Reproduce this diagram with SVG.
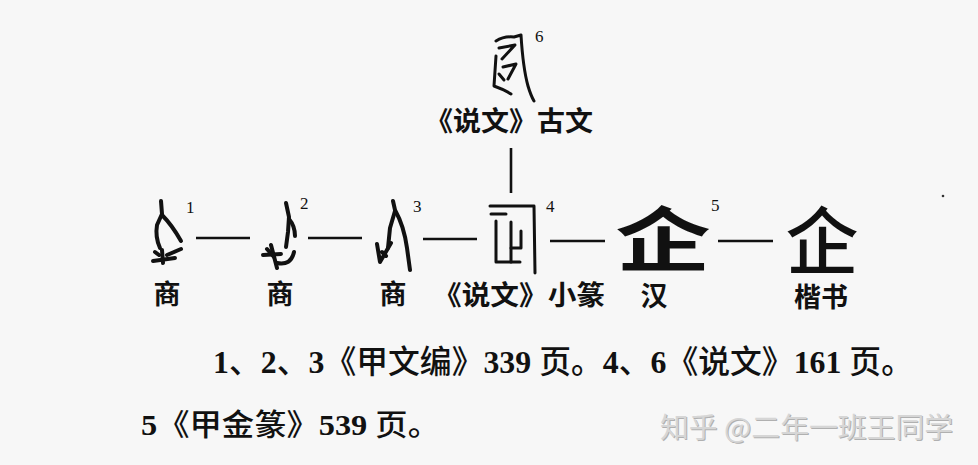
<svg xmlns="http://www.w3.org/2000/svg" width="978" height="465" viewBox="0 0 978 465">
<style>
.g{fill:none;stroke:#111;stroke-width:4;stroke-linecap:round;stroke-linejoin:round}
.t{fill:none;stroke:#111;stroke-width:3;stroke-linecap:round;stroke-linejoin:round}
.c{stroke:#111;stroke-width:2.6;fill:none}
.lb{font-family:"Noto Sans CJK SC","Noto Sans",sans-serif;font-weight:700;font-size:27px;fill:#111}
.lb2{font-family:"Liberation Sans","Noto Sans CJK SC",sans-serif;font-weight:700;font-size:27px;fill:#111}
.big{font-family:"Liberation Sans","Noto Sans CJK SC",sans-serif;fill:#111}
.sup{font-family:"Liberation Serif",serif;font-size:17px;fill:#111}
.line{font-family:"Liberation Serif","Noto Sans CJK SC",serif;font-weight:500;fill:#111}
.d{font-weight:700}
.wm{font-family:"Noto Sans CJK SC","Noto Sans",sans-serif;font-size:28px}
</style>
<rect width="978" height="465" fill="#f7f7f7"/>

<g id="connectors">
<line class="c" x1="196" y1="238" x2="250" y2="238"/>
<line class="c" x1="308" y1="238" x2="362" y2="238"/>
<line class="c" x1="423" y1="239" x2="477" y2="239"/>
<line class="c" x1="550" y1="241" x2="605" y2="241"/>
<line class="c" x1="718" y1="241" x2="773" y2="241"/>
<line class="c" x1="511" y1="148" x2="511" y2="193"/>
</g>

<g id="node-guwen">
<path class="t" d="M496,41 Q504,36 514,37 L521,35 Q523,68 528,86 Q531,96 534,101"/>
<path class="t" d="M499,48 L515,45 L502,59"/>
<path class="t" d="M496,56 L494,86 Q505,90 511,94"/>
<path class="t" d="M503,67 L516,64 L508,79"/>
<path class="t" d="M499,74 L504,80"/>
<text class="sup" x="535" y="42">6</text>
<text class="lb" x="425" y="131" textLength="168" lengthAdjust="spacingAndGlyphs">《说文》古文</text>
</g>

<g id="node-1">
<path class="g" d="M161,201 L162,214 L157,225 Q155,237 160,248"/>
<path class="g" d="M162,215 Q172,225 181,241"/>
<path class="g" d="M153,261 L175,258"/>
<path class="g" d="M162,250 L163,263"/>
<path class="g" d="M167,255 L181,249"/>
<path class="g" d="M155,252 L159,255"/>
<text class="sup" x="186" y="213">1</text>
<text class="lb" x="167" y="304" text-anchor="middle">商</text>
</g>

<g id="node-2">
<path class="g" d="M286,203 L289,217 L288,232 L286,247"/>
<path class="g" d="M289,219 Q295,226 295,236"/>
<path class="g" d="M263,255 L281,254"/>
<path class="g" d="M271,245 L277,268"/>
<path class="g" d="M277,263 Q291,266 294,252"/>
<path class="g" d="M267,249 L274,257"/>
<text class="sup" x="300" y="209">2</text>
<text class="lb" x="280" y="304" text-anchor="middle">商</text>
</g>

<g id="node-3">
<path class="g" d="M393,201 L395,210 Q404,226 407,248 L410,270"/>
<path class="g" d="M395,211 L390,228 L388,248"/>
<path class="g" d="M377,244 L380,262 L391,243"/>
<path class="g" d="M382,252 L386,256"/>
<text class="sup" x="413" y="212">3</text>
<text class="lb" x="393" y="304" text-anchor="middle">商</text>
</g>

<g id="node-4">
<path class="t" d="M490,206 L534,206 L535,273"/>
<path class="t" d="M491,214 L506,214"/>
<path class="t" d="M496,221 L496,262 L520,262"/>
<path class="t" d="M511,222 L511,262"/>
<path class="t" d="M521,231 L521,248 L511,248"/>
<text class="sup" x="546" y="212">4</text>
<text class="lb" x="433" y="305" textLength="172" lengthAdjust="spacingAndGlyphs">《说文》小篆</text>
</g>

<g id="node-5">
<text class="big" transform="translate(663,266) scale(1.36,1)" text-anchor="middle" font-weight="700" font-size="70">企</text>
<text class="sup" x="711" y="211">5</text>
<text class="lb2" x="654" y="306" text-anchor="middle">汉</text>
</g>

<g id="node-6">
<text class="big" x="822" y="268" text-anchor="middle" font-weight="500" font-size="73">企</text>
<text class="lb2" x="821" y="307" text-anchor="middle">楷书</text>
</g>

<g id="notes">
<text class="line" x="213" y="373" font-size="32" textLength="700" lengthAdjust="spacingAndGlyphs"><tspan class="d">1</tspan>、<tspan class="d">2</tspan>、<tspan class="d">3</tspan>《甲文编》<tspan class="d">339</tspan> 页。<tspan class="d">4</tspan>、<tspan class="d">6</tspan>《说文》<tspan class="d">161</tspan> 页。</text>
<text class="line" x="141" y="435" font-size="30" textLength="299" lengthAdjust="spacingAndGlyphs"><tspan class="d">5</tspan>《甲金篆》<tspan class="d">539</tspan> 页。</text>
</g>

<circle cx="943" cy="196" r="1.3" fill="#333"/>

<g id="watermark">
<text class="wm" x="660" y="438" textLength="293" lengthAdjust="spacingAndGlyphs" fill="#b0b0b0" transform="translate(1,1)">知乎 @二年一班王同学</text>
<text class="wm" x="660" y="438" textLength="293" lengthAdjust="spacingAndGlyphs" fill="#d6d6d6">知乎 @二年一班王同学</text>
</g>
</svg>
